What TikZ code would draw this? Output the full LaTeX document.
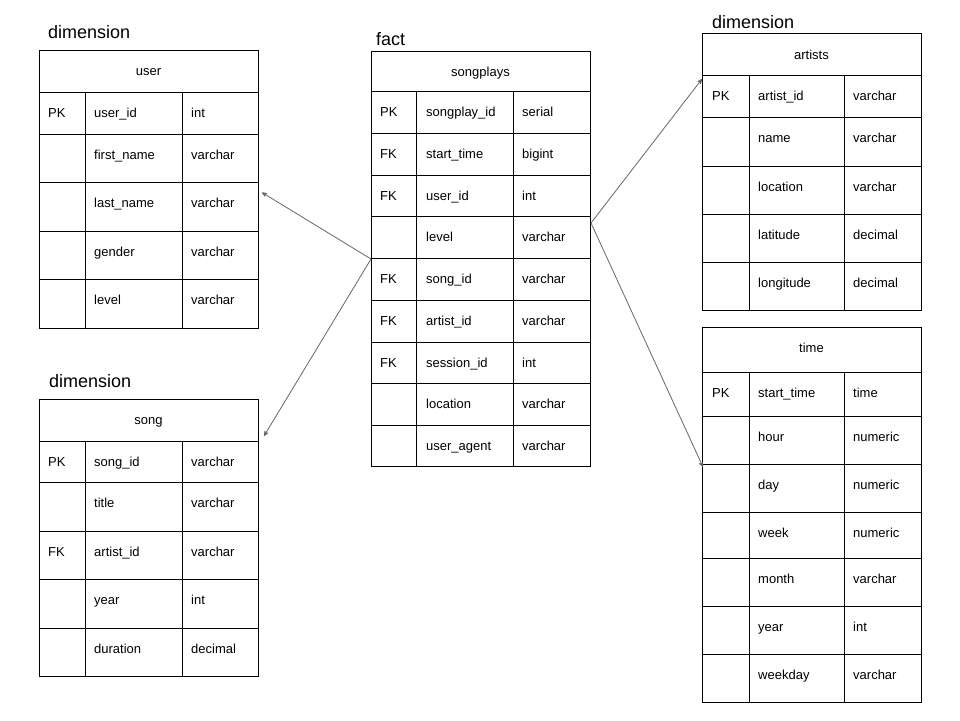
\documentclass[tikz,border=0pt]{standalone}
\usepackage{fontspec}
\setmainfont{Liberation Sans}
\usetikzlibrary{arrows,calc}
\usepackage{xcolor}
\definecolor{linkgray}{HTML}{666666}

\begin{document}
\begin{tikzpicture}[x=1pt,y=-1pt]

\tikzset{tbl/.style = {shape=rectangle,draw,line width=1pt,anchor=north west,inner sep=0pt}}
\tikzset{grid/.style = {line width=1pt}}
\tikzset{cell/.style = {anchor=west,inner sep=0pt,text height=9.5pt,text depth=0pt,font=\fontsize{13}{15}\selectfont}}
\tikzset{head/.style = {cell,anchor=center}}
\tikzset{kind/.style = {anchor=base west,inner sep=0pt,font=\fontsize{18}{21}\selectfont}}
\tikzset{edge/.style = {->,> = stealth',draw=linkgray,line width=0.8pt}}

\useasboundingbox (0,0) rectangle (960,720);

%labels
\node[kind] (dimuser) at (48,38) {dimension};
\node[kind] (dimsong) at (49,387) {dimension};
\node[kind] (factlab) at (376,45) {fact};
\node[kind] (dimart) at (712,28) {dimension};

%tables
\node[tbl,minimum width=219pt,minimum height=278pt] (user) at (39,50) {};
\node[tbl,minimum width=219pt,minimum height=277pt] (song) at (39,399) {};
\node[tbl,minimum width=219pt,minimum height=415pt] (fact) at (371,51) {};
\node[tbl,minimum width=219pt,minimum height=277pt] (artists) at (702,33) {};
\node[tbl,minimum width=219pt,minimum height=375pt] (time) at (702,327) {};

%user
\node[head] (user-h) at (148.5,71) {user};
\foreach \y in {92,134,182,231,279} \draw[grid] (39,\y) -- (258,\y);
\draw[grid] (85,92) -- (85,328) (182,92) -- (182,328);
\foreach \y/\k/\n/\t in {92/PK/user\_id/int,134//first\_name/varchar,182//last\_name/varchar,231//gender/varchar,279//level/varchar}
{
\node[cell] (user-k\y) at (48,\y+21) {\k};
\node[cell] (user-n\y) at (94,\y+21) {\n};
\node[cell] (user-t\y) at (191,\y+21) {\t};
}

%song
\node[head] (song-h) at (148.5,420) {song};
\foreach \y in {441,482,531,579,628} \draw[grid] (39,\y) -- (258,\y);
\draw[grid] (85,441) -- (85,676) (182,441) -- (182,676);
\foreach \y/\k/\n/\t in {441/PK/song\_id/varchar,482//title/varchar,531/FK/artist\_id/varchar,579//year/int,628//duration/decimal}
{
\node[cell] (song-k\y) at (48,\y+21) {\k};
\node[cell] (song-n\y) at (94,\y+21) {\n};
\node[cell] (song-t\y) at (191,\y+21) {\t};
}

%songplays
\node[head] (fact-h) at (480.5,72) {songplays};
\foreach \y in {91,133,175,216,258,300,342,383,425} \draw[grid] (371,\y) -- (590,\y);
\draw[grid] (416,91) -- (416,466) (513,91) -- (513,466);
\foreach \y/\k/\n/\t in {91/PK/songplay\_id/serial,133/FK/start\_time/bigint,175/FK/user\_id/int,216//level/varchar,258/FK/song\_id/varchar,300/FK/artist\_id/varchar,342/FK/session\_id/int,383//location/varchar,425//user\_agent/varchar}
{
\node[cell] (fact-k\y) at (380,\y+21) {\k};
\node[cell] (fact-n\y) at (426,\y+21) {\n};
\node[cell] (fact-t\y) at (522,\y+21) {\t};
}

%artists
\node[head] (artists-h) at (811.5,55) {artists};
\foreach \y in {75,117,166,214,262} \draw[grid] (702,\y) -- (921,\y);
\draw[grid] (749,75) -- (749,310) (844,75) -- (844,310);
\foreach \y/\k/\n/\t in {75/PK/artist\_id/varchar,117//name/varchar,166//location/varchar,214//latitude/decimal,262//longitude/decimal}
{
\node[cell] (artists-k\y) at (712,\y+21) {\k};
\node[cell] (artists-n\y) at (758,\y+21) {\n};
\node[cell] (artists-t\y) at (853,\y+21) {\t};
}

%time
\node[head] (time-h) at (811.5,348) {time};
\foreach \y in {372,416,464,512,558,606,654} \draw[grid] (702,\y) -- (921,\y);
\draw[grid] (749,372) -- (749,702) (844,372) -- (844,702);
\foreach \y/\k/\n/\t in {372/PK/start\_time/time,416//hour/numeric,464//day/numeric,512//week/numeric,558//month/varchar,606//year/int,654//weekday/varchar}
{
\node[cell] (time-k\y) at (712,\y+21) {\k};
\node[cell] (time-n\y) at (758,\y+21) {\n};
\node[cell] (time-t\y) at (853,\y+21) {\t};
}

%edges
\draw[edge] (fact.west) to ($(user.east)+(3,3)$);
\draw[edge] (fact.west) to ($(song.north east)+(5,37)$);
\draw[edge] ($(fact.east)+(0,-36)$) to ($(artists.north west)+(0,46)$);
\draw[edge] ($(fact.east)+(0,-36)$) to ($(time.north west)+(1,140)$);
\end{tikzpicture}
\end{document}
